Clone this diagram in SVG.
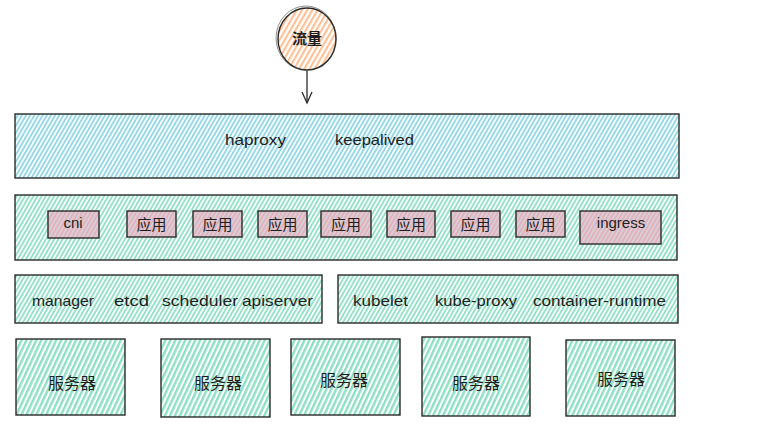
<svg xmlns="http://www.w3.org/2000/svg" width="781" height="438" viewBox="0 0 781 438">
<defs>
<pattern id="hBlue" width="3.6" height="3.6" patternUnits="userSpaceOnUse" patternTransform="rotate(30)">
<rect width="3.6" height="3.6" fill="#ffffff"/>
<line x1="1" y1="0" x2="1" y2="3.6" stroke="#8fd6e4" stroke-width="1.8"/>
</pattern>
<pattern id="hGreen" width="3.6" height="3.6" patternUnits="userSpaceOnUse" patternTransform="rotate(30)">
<rect width="3.6" height="3.6" fill="#ffffff"/>
<line x1="1" y1="0" x2="1" y2="3.6" stroke="#8ee0c4" stroke-width="1.8"/>
</pattern>
<pattern id="hGreenS" width="4.5" height="4.5" patternUnits="userSpaceOnUse" patternTransform="rotate(25)">
<rect width="4.5" height="4.5" fill="#ffffff"/>
<line x1="1.2" y1="0" x2="1.2" y2="4.5" stroke="#8ee0c4" stroke-width="2.4"/>
</pattern>
<pattern id="hPink" width="3.6" height="3.6" patternUnits="userSpaceOnUse" patternTransform="rotate(30)">
<rect width="3.6" height="3.6" fill="#d6d0d2"/>
<line x1="1" y1="0" x2="1" y2="3.6" stroke="#e7a9bc" stroke-width="1.5"/>
</pattern>
<pattern id="hOrange" width="4.5" height="4.5" patternUnits="userSpaceOnUse" patternTransform="rotate(30)">
<rect width="4.5" height="4.5" fill="#ffffff"/>
<line x1="1" y1="0" x2="1" y2="4.5" stroke="#ffbf94" stroke-width="2.2"/>
</pattern>
<style>
.box{stroke:#2a2a2a;stroke-width:1.4}
.sk{fill:none;stroke:#3a3a3a;stroke-width:0.8;opacity:0.7}
.t{font-family:"Liberation Sans","Noto Sans",sans-serif;font-size:15px;fill:#1e1e1e}
.c{font-family:"Noto Sans CJK SC","Noto Sans",sans-serif;font-size:15px;fill:#1e1e1e}
.s{font-family:"Noto Sans CJK SC","Noto Sans",sans-serif;font-size:16px;fill:#1e1e1e}
</style>
</defs>

<g id="traffic">
<ellipse cx="307" cy="39" rx="29" ry="31" fill="url(#hOrange)" class="box"/>
<ellipse cx="306" cy="38" rx="30" ry="32" class="sk"/>
<text x="307" y="44" text-anchor="middle" class="c" font-weight="bold">流量</text>
</g>

<g id="connectors">
<line x1="307" y1="71" x2="307" y2="103" stroke="#2a2a2a" stroke-width="1.3"/>
<polyline points="302,92 307,103 312,92" fill="none" stroke="#2a2a2a" stroke-width="1.3"/>
</g>

<g id="lb">
<rect x="15" y="114" width="664" height="64" fill="url(#hBlue)" class="box"/>
<text x="225" y="145" class="t" textLength="61" lengthAdjust="spacingAndGlyphs">haproxy</text>
<text x="335" y="145" class="t" textLength="79" lengthAdjust="spacingAndGlyphs">keepalived</text>
</g>

<g id="apps">
<rect x="15" y="195" width="662" height="65" fill="url(#hGreen)" class="box"/>
</g>
<g id="cni">
<rect x="48" y="211" width="51" height="27" fill="url(#hPink)" class="box"/>
<text x="73" y="228" text-anchor="middle" class="t" font-size="13">cni</text>
</g>
<g id="app1"><rect x="127" y="211" width="49" height="26" fill="url(#hPink)" class="box"/><text x="151.5" y="230" text-anchor="middle" class="c">应用</text></g>
<g id="app2"><rect x="193" y="211" width="49" height="26" fill="url(#hPink)" class="box"/><text x="217.5" y="230" text-anchor="middle" class="c">应用</text></g>
<g id="app3"><rect x="258" y="211" width="49" height="26" fill="url(#hPink)" class="box"/><text x="282.5" y="230" text-anchor="middle" class="c">应用</text></g>
<g id="app4"><rect x="321" y="211" width="50" height="26" fill="url(#hPink)" class="box"/><text x="346" y="230" text-anchor="middle" class="c">应用</text></g>
<g id="app5"><rect x="387" y="211" width="48" height="26" fill="url(#hPink)" class="box"/><text x="411" y="230" text-anchor="middle" class="c">应用</text></g>
<g id="app6"><rect x="451" y="211" width="49" height="26" fill="url(#hPink)" class="box"/><text x="475.5" y="230" text-anchor="middle" class="c">应用</text></g>
<g id="app7"><rect x="516" y="211" width="49" height="26" fill="url(#hPink)" class="box"/><text x="540.5" y="230" text-anchor="middle" class="c">应用</text></g>
<g id="ingress">
<rect x="580" y="211" width="81" height="33" fill="url(#hPink)" class="box"/>
<text x="621" y="228" text-anchor="middle" class="t">ingress</text>
</g>

<g id="master">
<rect x="15" y="275" width="307" height="48" fill="url(#hGreen)" class="box"/>
<text x="32" y="306" class="t" textLength="62" lengthAdjust="spacingAndGlyphs">manager</text>
<text x="114" y="306" class="t" textLength="35" lengthAdjust="spacingAndGlyphs">etcd</text>
<text x="162" y="306" class="t" textLength="76" lengthAdjust="spacingAndGlyphs">scheduler</text>
<text x="242" y="306" class="t" textLength="71" lengthAdjust="spacingAndGlyphs">apiserver</text>
</g>

<g id="node">
<rect x="338" y="275" width="340" height="48" fill="url(#hGreen)" class="box"/>
<text x="353" y="306" class="t" textLength="55" lengthAdjust="spacingAndGlyphs">kubelet</text>
<text x="435" y="306" class="t" textLength="82" lengthAdjust="spacingAndGlyphs">kube-proxy</text>
<text x="533" y="306" class="t" textLength="133" lengthAdjust="spacingAndGlyphs">container-runtime</text>
</g>

<g id="server1"><rect x="16" y="339" width="109" height="76" fill="url(#hGreenS)" class="box"/><text x="72" y="389" text-anchor="middle" class="s">服务器</text></g>
<g id="server2"><rect x="161" y="339" width="109" height="78" fill="url(#hGreenS)" class="box"/><text x="218" y="389" text-anchor="middle" class="s">服务器</text></g>
<g id="server3"><rect x="291" y="339" width="109" height="76" fill="url(#hGreenS)" class="box"/><text x="344" y="386" text-anchor="middle" class="s">服务器</text></g>
<g id="server4"><rect x="422" y="337" width="108" height="79" fill="url(#hGreenS)" class="box"/><text x="476" y="389" text-anchor="middle" class="s">服务器</text></g>
<g id="server5"><rect x="566" y="340" width="109" height="76" fill="url(#hGreenS)" class="box"/><text x="621" y="385" text-anchor="middle" class="s">服务器</text></g>
</svg>
